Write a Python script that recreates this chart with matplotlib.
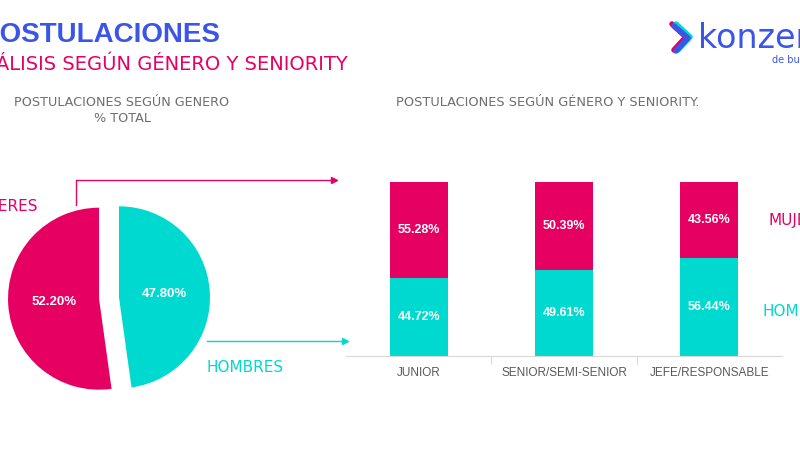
import matplotlib.pyplot as plt
from matplotlib.lines import Line2D

# data
pie_labels = ["HOMBRES", "MUJERES"]
pie_values = [47.80, 52.20]

categories = ["JUNIOR", "SENIOR/SEMI-SENIOR", "JEFE/RESPONSABLE"]
hombres = [44.72, 49.61, 56.44]
mujeres = [55.28, 50.39, 43.56]

PINK = "#e60062"
CYAN = "#00d9cf"
BLUE = "#3b55e6"
GRAY = "#6e6e6e"

W, H = 800, 450
fig = plt.figure(figsize=(8, 4.5), dpi=100)


def fx(px):
    return px / W


def fy(py):
    return 1 - py / H


# titles
fig.text(fx(-19), fy(42), "POSTULACIONES", color=BLUE, fontsize=20, fontweight="bold",
         family="Liberation Sans")
fig.text(fx(-32), fy(70), "ANÁLISIS SEGÚN GÉNERO Y SENIORITY", color=PINK, fontsize=14)
fig.text(fx(122), fy(103), "POSTULACIONES SEGÚN GENERO", color=GRAY, fontsize=9.2,
         ha="center", va="center")
fig.text(fx(122), fy(118), "% TOTAL", color=GRAY, fontsize=9.2, ha="center", va="center")
fig.text(fx(396), fy(103), "POSTULACIONES SEGÚN GÉNERO Y SENIORITY.", color=GRAY,
         fontsize=9.3, va="center")

# logo
fig.add_artist(Line2D([fx(672), fx(686), fx(674)], [fy(24), fy(37), fy(50)],
                      color=PINK, lw=4, solid_capstyle="round"))
fig.add_artist(Line2D([fx(676), fx(690), fx(678)], [fy(24), fy(37), fy(50)],
                      color=CYAN, lw=4, solid_capstyle="round"))
fig.add_artist(Line2D([fx(674), fx(688), fx(676)], [fy(26), fy(38), fy(51)],
                      color=BLUE, lw=4, solid_capstyle="round"))
fig.text(fx(698), fy(48), "konzerta", color=BLUE, fontsize=24)
fig.text(fx(772), fy(63), "de bumeran", color=BLUE, fontsize=7)

# pie
cx, cy, span = 109, 298, 130
ax_pie = fig.add_axes([fx(cx - span), fy(cy + span), 2 * span / W, 2 * span / H])
wedges, _, autotexts = ax_pie.pie(
    pie_values, colors=[CYAN, PINK], startangle=90, counterclock=False,
    explode=[0.1, 0.1], radius=0.91, autopct="%.2f%%", pctdistance=0.5,
    textprops=dict(color="white", fontsize=9.5, fontweight="bold",
                   family="Liberation Sans"))
ax_pie.set_xlim(-1.3, 1.3)
ax_pie.set_ylim(-1.3, 1.3)
ax_pie.axis("off")

fig.text(fx(38), fy(207), "MUJERES", color=PINK, fontsize=11, ha="right", va="center")
fig.text(fx(207), fy(367), "HOMBRES", color=CYAN, fontsize=11, va="center")

# connector arrows
fig.add_artist(Line2D([fx(76), fx(76), fx(334)], [fy(205), fy(180), fy(180)],
                      color=PINK, lw=1))
fig.add_artist(Line2D([fx(334)], [fy(180)], marker=">", color=PINK, markersize=5))
fig.add_artist(Line2D([fx(207), fx(345)], [fy(341), fy(341)], color=CYAN, lw=1))
fig.add_artist(Line2D([fx(345)], [fy(341)], marker=">", color=CYAN, markersize=5))

# stacked bars
ax = fig.add_axes([fx(346), fy(356), (782 - 346) / W, (356 - 182) / H])
x = range(len(categories))
ax.bar(x, hombres, width=0.4, color=CYAN)
ax.bar(x, mujeres, width=0.4, bottom=hombres, color=PINK)
for i in x:
    ax.text(i, hombres[i] / 2, f"{hombres[i]:.2f}%", color="white", fontsize=9,
            fontweight="bold", ha="center", va="center", family="Liberation Sans")
    ax.text(i, hombres[i] + mujeres[i] / 2, f"{mujeres[i]:.2f}%", color="white",
            fontsize=9, fontweight="bold", ha="center", va="center",
            family="Liberation Sans")
ax.set_xlim(-0.5, 2.5)
ax.set_ylim(0, 100)
ax.set_yticks([])
ax.set_xticks([0.5, 1.5])
ax.set_xticklabels([])
ax.set_xticks(list(x), minor=True)
ax.set_xticklabels(categories, minor=True, color="#595959", fontsize=8.5,
                   family="Liberation Sans")
ax.tick_params(axis="x", which="major", length=6, color="#d9d9d9")
ax.tick_params(axis="x", which="minor", length=0, pad=8)
for s in ["top", "left", "right"]:
    ax.spines[s].set_visible(False)
ax.spines["bottom"].set_color("#d9d9d9")

fig.text(fx(768), fy(220), "MUJERES", color=PINK, fontsize=11, va="center")
fig.text(fx(763), fy(311), "HOMBRES", color=CYAN, fontsize=11, va="center")

fig.savefig("out.png", dpi=100)
